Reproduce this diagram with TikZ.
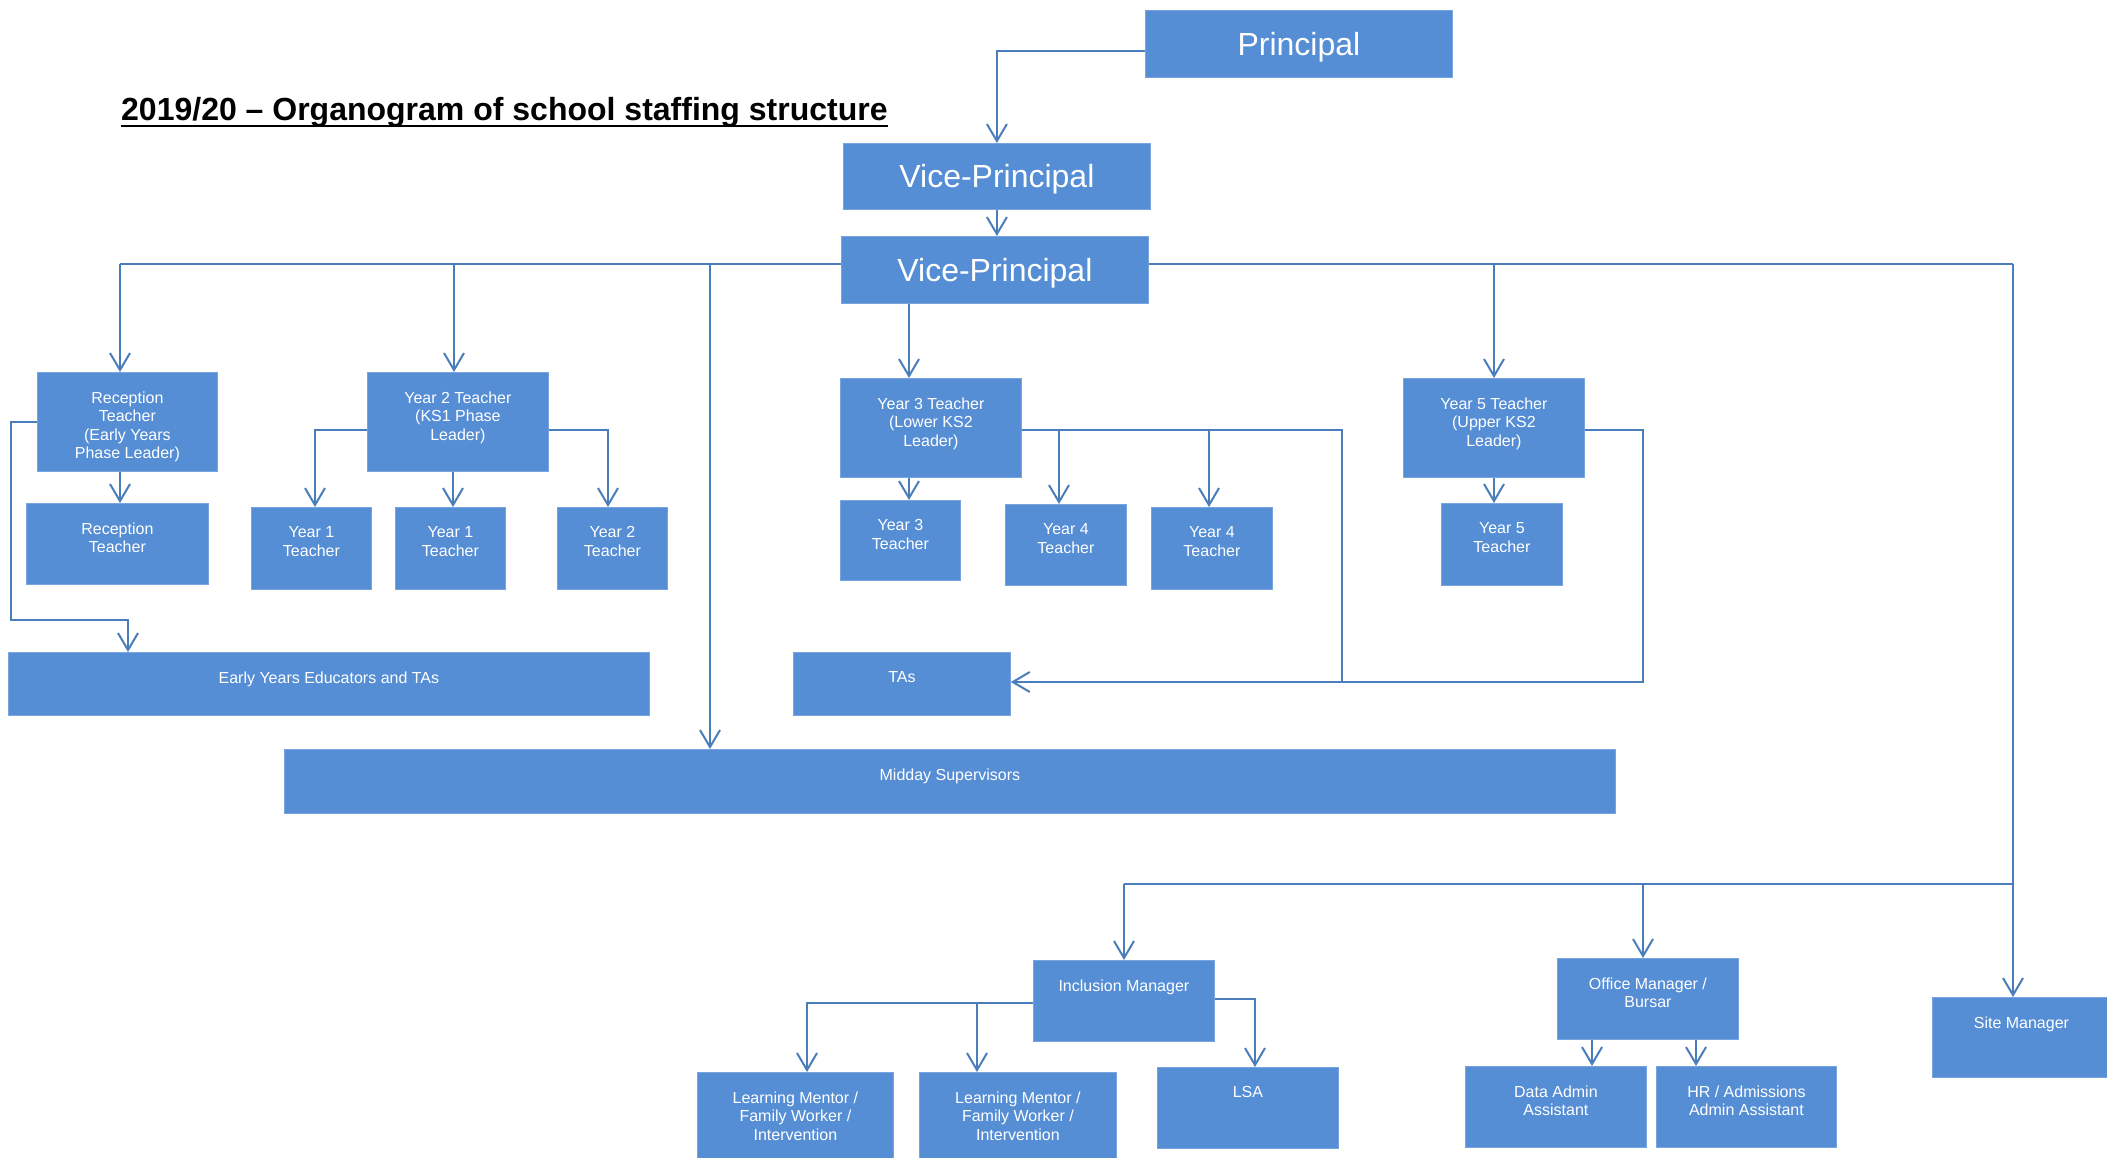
\documentclass[tikz,border=0pt]{standalone}
\usepackage{fontspec}
\setmainfont{Liberation Sans}
\usetikzlibrary{arrows.meta}
\definecolor{boxblue}{RGB}{85,142,213}
\definecolor{boxedge}{RGB}{120,165,225}
\definecolor{linkblue}{RGB}{74,126,187}
\tikzset{
  box/.style={fill=boxblue, draw=boxedge, line width=0.8pt, inner sep=0pt, anchor=north west},
  txt/.style={text=white, font=\fontsize{16}{18.4}\selectfont, align=center, inner sep=0pt, anchor=north},
  bigtxt/.style={text=white, font=\fontsize{32}{36}\selectfont, text depth=0pt},
  conn/.style={draw=linkblue, line width=2pt},
  arr/.style={conn, -{Straight Barb[length=17pt, width=20pt]}}
}
% name, left, top, width, height, label
\newcommand\staffbox[6]{%
  \node[box, minimum width=#4pt, minimum height=#5pt] (#1) at (#2,#3) {};
  \node[txt] (#1-t) at ([yshift=-19.5pt]#1.north) {#6};}
\begin{document}
\begin{tikzpicture}[x=1pt, y=-1pt]
\useasboundingbox (0,0) rectangle (2107,1158);

% title
\node[font=\bfseries\fontsize{32}{38}\selectfont, anchor=base west, inner sep=0pt] (title) at (121,121)
  {2019/20 – Organogram of school staffing structure};
\draw[line width=2.7pt] ([yshift=-5pt]title.base west) -- ([yshift=-5pt]title.base east);

% senior leadership
\node[box, bigtxt, minimum width=307pt, minimum height=67pt] (prin) at (1145,10) {Principal};
\node[box, bigtxt, minimum width=307pt, minimum height=66pt] (vp1) at (843,143) {Vice-Principal};
\node[box, bigtxt, minimum width=307pt, minimum height=67pt] (vp2) at (841,236) {Vice-Principal};

% early years and KS1
\staffbox{eyl}{37}{372}{180}{99}{Reception\\Teacher\\(Early Years\\Phase Leader)}
\staffbox{ks1}{367}{372}{181}{99}{Year 2 Teacher\\(KS1 Phase\\Leader)}
\staffbox{rec}{26}{503}{182}{81}{Reception\\Teacher}
\staffbox{y1a}{251}{507}{120}{82}{Year 1\\Teacher}
\staffbox{y1b}{395}{507}{110}{82}{Year 1\\Teacher}
\staffbox{y2}{557}{507}{110}{82}{Year 2\\Teacher}
\staffbox{eyed}{8}{652}{641}{63}{Early Years Educators and TAs}

% KS2
\staffbox{y3l}{840}{378}{181}{99}{Year 3 Teacher\\(Lower KS2\\Leader)}
\staffbox{y3}{840}{500}{120}{80}{Year 3\\Teacher}
\staffbox{y4a}{1005}{504}{121}{81}{Year 4\\Teacher}
\staffbox{y4b}{1151}{507}{121}{82}{Year 4\\Teacher}
\staffbox{y5l}{1403}{378}{181}{99}{Year 5 Teacher\\(Upper KS2\\Leader)}
\staffbox{y5}{1441}{503}{121}{82}{Year 5\\Teacher}
\staffbox{tas}{793}{652}{217}{63}{TAs}
\staffbox{mid}{284}{749}{1331}{64}{Midday Supervisors}

% support staff
\staffbox{incl}{1033}{960}{181}{81}{Inclusion Manager}
\staffbox{off}{1557}{958}{181}{81}{Office Manager /\\Bursar}
\staffbox{site}{1932}{997}{178}{80}{Site Manager}
\staffbox{lm1}{697}{1072}{196}{93}{Learning Mentor /\\Family Worker /\\Intervention}
\staffbox{lm2}{919}{1072}{197}{93}{Learning Mentor /\\Family Worker /\\Intervention}
\staffbox{lsa}{1157}{1067}{181}{81}{LSA}
\staffbox{dat}{1465}{1066}{181}{81}{Data Admin\\Assistant}
\staffbox{hr}{1656}{1066}{180}{81}{HR / Admissions\\Admin Assistant}

% bend and branch points
\coordinate (busL) at (120,264);
\coordinate (busR) at (2013,264);
\coordinate (bKS1) at (454,264);
\coordinate (bMid) at (710,264);
\coordinate (bY5) at (1494,264);
\coordinate (dY3) at (909,0);
\coordinate (dEY) at (120,0);
\coordinate (eyA) at (11,620);
\coordinate (eyB) at (128,620);
\coordinate (kRow) at (0,430);
\coordinate (ks1L) at (315,430);
\coordinate (ks1M) at (453,0);
\coordinate (ks1R) at (608,430);
\coordinate (y3R) at (1342,430);
\coordinate (y4aD) at (1059,430);
\coordinate (y4bD) at (1209,430);
\coordinate (y5R) at (1643,430);
\coordinate (taRow) at (0,682);
\coordinate (y5D) at (1494,0);
\coordinate (supR) at (2013,884);
\coordinate (supL) at (1124,884);
\coordinate (supM) at (1643,884);
\coordinate (inL) at (807,1003);
\coordinate (inM) at (977,1003);
\coordinate (inR) at (1255,999);
\coordinate (ofA) at (1592,0);
\coordinate (ofB) at (1696,0);

% principal and vice-principals
\draw[arr] ([yshift=-7.5pt]prin.west) -| (vp1.north);
\draw[arr] (vp1.south) -- (vp1.south |- vp2.north);

% main distribution line
\draw[conn] (vp2.west |- busL) -- (busL);
\draw[conn] (vp2.east |- busR) -- (busR);
\draw[arr] (busL) -- (busL |- eyl.north);
\draw[arr] (bKS1) -- (bKS1 |- ks1.north);
\draw[arr] (bMid) -- (bMid |- mid.north);
\draw[arr] (vp2.south -| dY3) -- (dY3 |- y3l.north);
\draw[arr] (bY5) -- (bY5 |- y5l.north);
\draw[arr] (busR) -- (busR |- site.north);

% early years
\draw[arr] (eyl.south -| dEY) -- (dEY |- rec.north);
\draw[arr] (eyl.west) -| (eyA) -- (eyB) -- (eyB |- eyed.north);

% KS1
\draw[arr] (ks1.west |- kRow) -- (ks1L) -- (ks1L |- y1a.north);
\draw[arr] (ks1.south -| ks1M) -- (ks1M |- y1b.north);
\draw[arr] (ks1.east |- kRow) -- (ks1R) -- (ks1R |- y2.north);

% lower KS2
\draw[arr] (y3l.south -| dY3) -- (dY3 |- y3.north);
\draw[conn] (y3l.east |- kRow) -- (y3R) -- (y3R |- taRow);
\draw[arr] (y4aD) -- (y4aD |- y4a.north);
\draw[arr] (y4bD) -- (y4bD |- y4b.north);

% upper KS2
\draw[arr] (y5l.south -| y5D) -- (y5D |- y5.north);
\draw[arr] (y5l.east |- kRow) -- (y5R) -- (y5R |- taRow) -- (tas.east |- taRow);

% support staff
\draw[conn] (supR) -- (supL);
\draw[arr] (supL) -- (supL |- incl.north);
\draw[arr] (supM) -- (supM |- off.north);
\draw[arr] (incl.west |- inL) -- (inL) -- (inL |- lm1.north);
\draw[arr] (inM) -- (inM |- lm2.north);
\draw[arr] (incl.east |- inR) -- (inR) -- (inR |- lsa.north);
\draw[arr] (off.south -| ofA) -- (ofA |- dat.north);
\draw[arr] (off.south -| ofB) -- (ofB |- hr.north);
\end{tikzpicture}
\end{document}
